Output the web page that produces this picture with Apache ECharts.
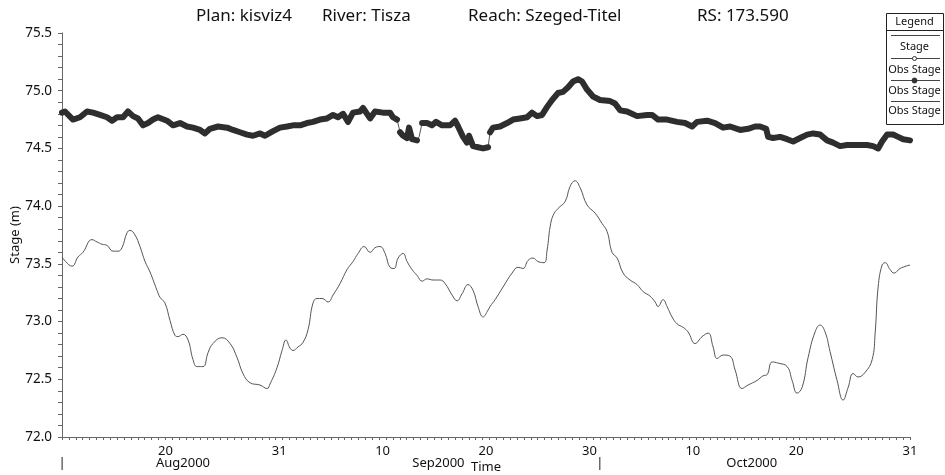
<!DOCTYPE html>
<html><head><meta charset="utf-8">
<script src="https://cdn.jsdelivr.net/npm/echarts@6/dist/echarts.min.js"></script>
<style>html,body{margin:0;padding:0;background:#fff}#c{width:945px;height:475px}</style>
</head><body><div id="c"></div>
<script>
// Time axis: days after 10 Aug 2000 00:00
const titleParts = ['Plan: kisviz4', 'River: Tisza', 'Reach: Szeged-Titel', 'RS: 173.590'];

const stageDays = [
  0, 0.97, 1.55, 2.03, 2.90, 3.38, 3.87, 4.35, 4.93, 5.42,
  5.80, 6.29, 6.58, 7.06, 7.54, 8.03, 8.51, 9.19, 9.48, 9.96,
  10.44, 10.93, 11.22, 11.70, 12.19, 12.67, 13.06, 13.64, 14.12, 14.60,
  15.47, 16.25, 16.92, 17.50, 18.18, 19.15, 19.83, 20.12, 20.79, 21.28,
  21.66, 22.05, 22.34, 22.82, 23.31, 23.79, 24.27, 24.66, 25.15, 25.73,
  26.21, 26.89, 27.56, 28.14, 28.63, 29.21, 29.79, 30.27, 30.75, 31.24,
  31.72, 32.11, 32.50, 32.98, 33.37, 33.85, 34.33, 34.82, 35.30, 35.88,
  36.56, 37.04, 37.72, 38.20, 38.68, 39.26, 39.75, 40.23, 40.72, 41.20,
  41.39, 41.88, 42.65, 43.52, 44.10, 44.58, 45.07, 45.55, 46.03, 46.62,
  46.91, 47.20, 47.49, 47.97, 48.65, 49.13, 49.61, 50.10, 50.77, 51.55,
  52.22, 52.71, 53.19, 53.68, 54.26, 54.93, 55.61, 56.19, 56.87, 57.35,
  57.64, 58.12, 58.51, 58.99, 59.48, 60.06, 60.54, 61.22, 61.90, 62.48,
  62.96, 63.35, 63.93, 64.60, 65.09, 65.76, 66.34, 67.21, 67.79, 68.18,
  68.67, 69.25, 70.12, 70.60, 71.08, 71.57, 72.15, 72.82, 73.31, 73.79,
  74.27, 74.95, 75.53, 76.02, 76.50, 76.98, 77.66, 78.34, 78.63, 78.92,
  79.30, 79.59, 80.08, 80.46, 81.04, 82.0
];
const stageValues = [
  73.56, 73.48, 73.56, 73.60, 73.71, 73.69, 73.67, 73.66, 73.61, 73.61,
  73.64, 73.77, 73.79, 73.75, 73.65, 73.52, 73.43, 73.27, 73.21, 73.16,
  73.01, 72.88, 72.87, 72.89, 72.84, 72.67, 72.61, 72.61, 72.73, 72.81,
  72.86, 72.81, 72.69, 72.55, 72.47, 72.45, 72.42, 72.46, 72.60, 72.75,
  72.84, 72.77, 72.75, 72.78, 72.82, 72.93, 73.16, 73.20, 73.20, 73.17,
  73.23, 73.33, 73.45, 73.52, 73.59, 73.65, 73.60, 73.64, 73.65, 73.59,
  73.47, 73.46, 73.55, 73.59, 73.52, 73.45, 73.40, 73.35, 73.37, 73.36,
  73.36, 73.33, 73.23, 73.18, 73.24, 73.32, 73.27, 73.13, 73.04, 73.10,
  73.13, 73.19, 73.30, 73.42, 73.47, 73.46, 73.53, 73.55, 73.52, 73.51,
  73.62, 73.82, 73.92, 73.98, 74.04, 74.17, 74.22, 74.16, 74.01, 73.94,
  73.85, 73.78, 73.60, 73.55, 73.42, 73.36, 73.32, 73.26, 73.22, 73.17,
  73.13, 73.19, 73.13, 73.04, 72.98, 72.95, 72.91, 72.81, 72.87, 72.90,
  72.78, 72.68, 72.71, 72.70, 72.58, 72.42, 72.45, 72.49, 72.53, 72.54,
  72.65, 72.64, 72.61, 72.49, 72.38, 72.43, 72.69, 72.91, 72.97, 72.91,
  72.74, 72.49, 72.32, 72.43, 72.55, 72.52, 72.56, 72.67, 72.90, 73.30,
  73.49, 73.51, 73.45, 73.42, 73.46, 73.49
];

const obsDays = [
  0, 0.29, 1.06, 1.74, 2.42, 3.00, 3.68, 4.35, 4.84, 5.32,
  5.90, 6.38, 6.87, 7.35, 7.83, 8.32, 8.80, 9.28, 10.15, 10.74,
  11.41, 12.09, 12.67, 13.35, 13.83, 14.31, 15.09, 15.96, 16.54, 17.21,
  17.89, 18.47, 19.15, 19.63, 20.41, 21.08, 21.76, 22.34, 23.02, 23.69,
  24.27, 24.95, 25.63, 26.21, 26.69, 27.18, 27.66, 28.14, 28.82,
  29.11, 29.79, 30.27, 31.04, 31.72, 32.01, 32.40, 32.69, 32.98, 33.37,
  33.56, 33.85, 34.33, 34.53, 34.82, 35.30, 35.78, 36.17, 36.75, 37.52,
  38.01, 38.30, 38.78, 39.17, 39.36, 39.75, 40.23, 40.72, 41.20, 41.39,
  41.68, 42.36, 43.04, 43.62, 44.29, 44.97, 45.45, 45.94, 46.42, 46.91,
  47.39, 47.97, 48.45, 48.94, 49.42, 49.90, 50.29, 50.77, 51.35, 52.03,
  53.00, 53.48, 53.97, 54.64, 55.61, 56.58, 57.06, 57.64,
  58.51, 59.48, 60.25, 60.93, 61.41, 62.38, 63.15, 63.93, 64.60, 65.57,
  66.34, 67.02, 67.50, 68.09, 68.28, 68.76, 69.44, 70.12, 70.70, 71.37,
  72.05, 72.63, 73.31, 73.98, 74.56, 75.24, 75.92, 76.89, 77.85, 78.43,
  78.92, 79.30, 79.79, 80.37, 80.85, 81.33, 82.0
];
const obsValues = [
  74.81, 74.82, 74.75, 74.77, 74.82, 74.81, 74.79, 74.77, 74.74, 74.77,
  74.77, 74.82, 74.78, 74.76, 74.70, 74.72, 74.75, 74.77, 74.74, 74.70,
  74.72, 74.69, 74.68, 74.66, 74.63, 74.67, 74.69, 74.68, 74.66, 74.64,
  74.62, 74.61, 74.63, 74.61, 74.65, 74.68, 74.69, 74.70, 74.70, 74.72,
  74.73, 74.75, 74.76, 74.79, 74.77, 74.80, 74.73, 74.81, 74.82,
  74.85, 74.76, 74.82, 74.81, 74.81, 74.77, 74.75, 74.64, 74.61, 74.59,
  74.68, 74.58, 74.57, 74.60, 74.72, 74.72, 74.70, 74.73, 74.70, 74.70,
  74.74, 74.69, 74.60, 74.55, 74.61, 74.52, 74.51, 74.50, 74.51, 74.64,
  74.68, 74.69, 74.72, 74.75, 74.76, 74.77, 74.81, 74.78, 74.79, 74.86,
  74.92, 74.98, 74.99, 75.03, 75.08, 75.10, 75.08, 75.01, 74.95, 74.92,
  74.91, 74.89, 74.83, 74.82, 74.78, 74.79, 74.79, 74.75,
  74.75, 74.73, 74.72, 74.69, 74.73, 74.74, 74.72, 74.68, 74.69, 74.66,
  74.67, 74.69, 74.69, 74.67, 74.60, 74.59, 74.60, 74.58, 74.56, 74.59,
  74.62, 74.63, 74.62, 74.57, 74.55, 74.52, 74.53, 74.53, 74.53, 74.52,
  74.50, 74.56, 74.62, 74.62, 74.60, 74.58, 74.57
];
// periods without observations (days)
const obsGaps = [[32.45, 32.65], [34.35, 34.80], [41.25, 41.35]];

const xTickDays = [10, 21, 31, 41, 51, 61, 71, 82];
const xTickLabels = ['20', '31', '10', '20', '30', '10', '20', '31'];
const monthLabelDays = [11.7, 36.4, 66.7];
const monthLabels = ['Aug2000', 'Sep2000', 'Oct2000'];
const monthMarkDays = [0, 52];

const legendLabels = ['Stage', 'Obs Stage', 'Obs Stage', 'Obs Stage'];

const FONT = '"Noto Sans", "Open Sans", sans-serif';
const tickMap = {}; xTickDays.forEach((d, i) => tickMap[d] = xTickLabels[i]);
const monthMap = {}; monthLabelDays.forEach((d, i) => monthMap[d] = monthLabels[i]);
monthMarkDays.forEach(d => monthMap[d] = '|');

const minorX = [];
for (let t = 0; t <= 82.001; t += 2 / 3) minorX.push(+t.toFixed(4));

const stageData = stageDays.map((d, i) => [d, stageValues[i]]);
const obsThin = obsDays.map((d, i) => [d, obsValues[i]]);
const obsThick = [];
obsDays.forEach((d, i) => {
  if (i > 0) {
    const p = obsDays[i - 1];
    if (obsGaps.some(g => g[0] > p && g[1] < d)) obsThick.push([(p + d) / 2, '-']);
  }
  const inGap = obsGaps.some(g => d >= g[0] && d <= g[1]);
  obsThick.push([d, inGap ? '-' : obsValues[i]]);
});

const chart = echarts.init(document.getElementById('c'));
const titleLeft = [196, 322, 468, 697];
const lg = { x: 886, y: 13, w: 57, h: 111 };
const lgCx = lg.x + lg.w / 2;
const lineEl = (y) => ({ type: 'line', shape: { x1: lg.x + 5, y1: y + 0.5, x2: lg.x + lg.w - 3, y2: y + 0.5 }, style: { stroke: '#444', lineWidth: 1 } });
const txtEl = (t, y) => ({ type: 'text', x: lgCx, y: y, style: { text: t, fill: '#111', font: '11px ' + FONT, textAlign: 'center', textVerticalAlign: 'middle' } });

chart.setOption({
  animation: false,
  backgroundColor: '#fff',
  title: titleParts.map((t, i) => ({
    text: t, left: titleLeft[i], top: 8, padding: 0,
    textStyle: { fontFamily: FONT, fontSize: 17, fontWeight: 'normal', color: '#111' }
  })),
  grid: { left: 62, right: 35, top: 33, bottom: 38, outerBoundsMode: 'none' },
  xAxis: [{
    type: 'value', min: 0, max: 82,
    name: 'Time', nameLocation: 'middle', nameGap: 24, nameMoveOverlap: false,
    nameTextStyle: { fontFamily: FONT, fontSize: 13, color: '#111' },
    axisLine: { show: true, onZero: false, lineStyle: { color: '#666', width: 1 } },
    axisTick: { show: true, customValues: minorX, length: 3, lineStyle: { color: '#666' } },
    axisLabel: { customValues: xTickDays, formatter: v => tickMap[v] || '', margin: 8, fontFamily: FONT, fontSize: 13, color: '#111' },
    splitLine: { show: false }
  }, {
    type: 'value', min: 0, max: 82, position: 'bottom',
    axisLine: { show: false }, axisTick: { show: false },
    axisLabel: { customValues: monthLabelDays.concat(monthMarkDays), formatter: v => monthMap[v] || '', margin: 20, fontFamily: FONT, fontSize: 13, color: '#111' },
    splitLine: { show: false }
  }],
  yAxis: {
    type: 'value', min: 72, max: 75.5, interval: 0.5,
    name: 'Stage (m)', nameLocation: 'middle', nameGap: 40, nameMoveOverlap: false,
    nameTextStyle: { fontFamily: FONT, fontSize: 13, color: '#111' },
    axisLine: { show: true, lineStyle: { color: '#666', width: 1 } },
    axisTick: { show: true, length: 4, lineStyle: { color: '#666' } },
    minorTick: { show: true, splitNumber: 5, length: 4, lineStyle: { color: '#666' } },
    axisLabel: { formatter: v => v.toFixed(1), margin: 10, fontFamily: FONT, fontSize: 13.5, color: '#111' },
    splitLine: { show: false }, minorSplitLine: { show: false }
  },
  series: [{
    name: 'Stage', type: 'line', data: stageData, showSymbol: false, smooth: 0.45,
    lineStyle: { color: '#555', width: 1 }, z: 2
  }, {
    name: 'Obs Stage', type: 'line', data: obsThin, showSymbol: false,
    lineStyle: { color: '#555', width: 1 }, z: 3
  }, {
    name: 'Obs Stage', type: 'line', data: obsThick, showSymbol: false, connectNulls: false,
    lineStyle: { color: '#2e2e2e', width: 6, join: 'round', cap: 'round' }, z: 4
  }],
  graphic: [{
    type: 'group', z: 100, children: [
      { type: 'rect', shape: { x: lg.x + 0.5, y: lg.y + 0.5, width: lg.w, height: lg.h }, style: { fill: '#fff', stroke: '#222', lineWidth: 1 } },
      txtEl('Legend', 22),
      { type: 'line', shape: { x1: lg.x, y1: 30.5, x2: lg.x + lg.w, y2: 30.5 }, style: { stroke: '#222', lineWidth: 1 } },
      lineEl(35),
      txtEl(legendLabels[0], 47),
      lineEl(58),
      { type: 'circle', shape: { cx: lgCx, cy: 58.5, r: 2 }, style: { fill: '#fff', stroke: '#333', lineWidth: 1 } },
      txtEl(legendLabels[1], 70),
      lineEl(80),
      { type: 'circle', shape: { cx: lgCx, cy: 80.5, r: 2.5 }, style: { fill: '#333', stroke: '#333', lineWidth: 1 } },
      txtEl(legendLabels[2], 91),
      lineEl(101),
      txtEl(legendLabels[3], 111)
    ]
  }]
});
</script>
</body></html>
